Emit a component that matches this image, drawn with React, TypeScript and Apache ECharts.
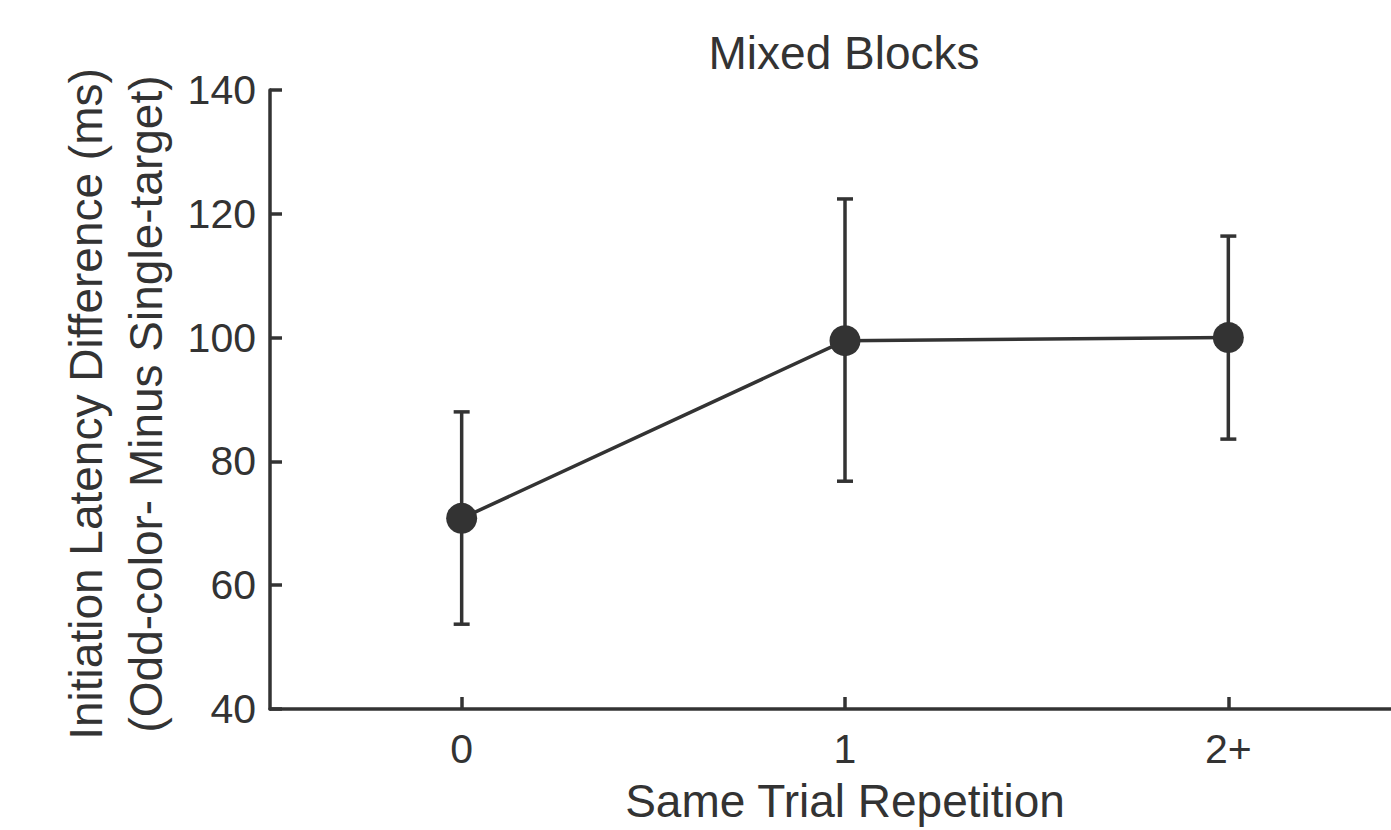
import React, { useEffect, useRef } from "react";
import * as echarts from "echarts";

const categories = ["0", "1", "2+"];
const means = [70.8, 99.5, 100.0];
const lower = [53.7, 76.8, 83.6];
const upper = [88.0, 122.4, 116.4];
const yTicks = { min: 40, max: 140, interval: 20 };

const chartTitle = "Mixed Blocks";
const xTitle = "Same Trial Repetition";
const yTitle = "Initiation Latency Difference (ms)\n(Odd-color- Minus Single-target)";

const INK = "#333333";
const FONT = "Liberation Sans";

export default function App() {
  const ref = useRef<HTMLDivElement>(null);
  useEffect(() => {
    if (!ref.current) return;
    const chart = echarts.init(ref.current, null, { renderer: "svg" });
    const errData = categories.map((c, i) => [i, lower[i], upper[i]]);
    chart.setOption({
      animation: false,
      backgroundColor: "#ffffff",
      textStyle: { fontFamily: FONT },
      grid: {
        left: 270,
        top: 90,
        height: 619,
        width: 1150,
        containLabel: false,
        outerBoundsMode: "none",
      },
      graphic: [
        {
          type: "text",
          x: 844,
          y: 53,
          style: {
            text: chartTitle,
            fill: INK,
            fontSize: 46,
            fontFamily: FONT,
            textAlign: "center",
            textVerticalAlign: "middle",
          },
        },
        {
          type: "text",
          x: 845,
          y: 801,
          style: {
            text: xTitle,
            fill: INK,
            fontSize: 46,
            fontFamily: FONT,
            textAlign: "center",
            textVerticalAlign: "middle",
          },
        },
        {
          type: "text",
          x: 116,
          y: 404,
          rotation: Math.PI / 2,
          style: {
            text: yTitle,
            fill: INK,
            fontSize: 46,
            fontFamily: FONT,
            lineHeight: 60,
            textAlign: "center",
            textVerticalAlign: "middle",
          },
        },
      ],
      xAxis: {
        type: "category",
        data: categories,
        boundaryGap: true,
        axisLine: { show: true, lineStyle: { color: INK, width: 3.5 } },
        axisTick: { show: true, inside: true, alignWithLabel: true, length: 12, lineStyle: { color: INK, width: 3.5 } },
        axisLabel: { color: INK, fontSize: 41, fontFamily: FONT, margin: 19 },
        splitLine: { show: false },
      },
      yAxis: {
        type: "value",
        min: yTicks.min,
        max: yTicks.max,
        interval: yTicks.interval,
        axisLine: { show: true, lineStyle: { color: INK, width: 3.5 } },
        axisTick: { show: true, inside: true, length: 12, lineStyle: { color: INK, width: 3.5 } },
        axisLabel: { color: INK, fontSize: 41, fontFamily: FONT, margin: 14 },
        splitLine: { show: false },
      },
      series: [
        {
          type: "custom",
          data: errData,
          z: 1,
          renderItem: (params: any, api: any) => {
            const x = api.value(0);
            const lo = api.coord([x, api.value(1)]);
            const hi = api.coord([x, api.value(2)]);
            const cap = 8;
            const style = { stroke: INK, lineWidth: 3.5 };
            return {
              type: "group",
              children: [
                { type: "line", shape: { x1: lo[0], y1: lo[1], x2: hi[0], y2: hi[1] }, style },
                { type: "line", shape: { x1: hi[0] - cap, y1: hi[1], x2: hi[0] + cap, y2: hi[1] }, style },
                { type: "line", shape: { x1: lo[0] - cap, y1: lo[1], x2: lo[0] + cap, y2: lo[1] }, style },
              ],
            };
          },
        },
        {
          type: "line",
          data: means,
          z: 2,
          symbol: "circle",
          symbolSize: 31,
          itemStyle: { color: INK },
          lineStyle: { color: INK, width: 3.5 },
        },
      ],
    });
    return () => chart.dispose();
  }, []);
  return (
    <div
      ref={ref}
      style={{ position: "fixed", left: 0, top: 0, width: 1391, height: 830, background: "#fff" }}
    />
  );
}
